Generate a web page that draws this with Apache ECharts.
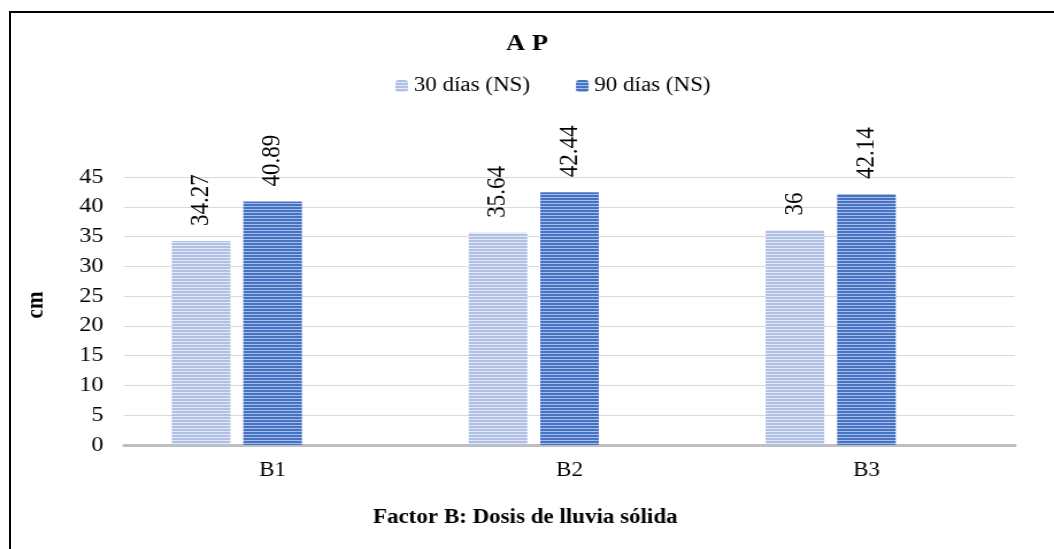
<!DOCTYPE html>
<html>
<head>
<meta charset="utf-8">
<script src="https://cdn.jsdelivr.net/npm/echarts@6/dist/echarts.min.js"></script>
<style>
  html, body { margin: 0; padding: 0; background: #fff; overflow: hidden; }
  #frame { position: absolute; left: 9px; top: 11px; width: 1100px; height: 600px; border: 2px solid #000; box-sizing: border-box; }
  /* el original está estirado en horizontal (~1.15) */
  #main { position: absolute; left: 0; top: 0; width: 917px; height: 549px; transform: scaleX(1.1494); transform-origin: 0 0; }
</style>
</head>
<body>
<div id="frame"></div>
<div id="main"></div>
<script>
  var categories = ['B1', 'B2', 'B3'];
  var seriesNames = ['30 días (NS)', '90 días (NS)'];
  var dias30 = [34.27, 35.64, 36];
  var dias90 = [40.89, 42.44, 42.14];
  var vacio = [null, null, null]; // tercer hueco de la serie (vacío en el original)
  var yTicks = { min: 0, max: 45, interval: 5 };

  // rayado horizontal de las barras
  function stripes(base, line) {
    var c = document.createElement('canvas');
    c.width = 4; c.height = 3;
    var ctx = c.getContext('2d');
    ctx.fillStyle = base;
    ctx.fillRect(0, 0, 4, 3);
    ctx.fillStyle = line;
    ctx.fillRect(0, 2, 4, 1);
    return { image: c, repeat: 'repeat' };
  }

  var font = 'Liberation Serif';
  var labelCfg = {
    show: true,
    position: 'top',
    rotate: 90,
    align: 'left',
    verticalAlign: 'middle',
    distance: 15,
    fontFamily: font,
    fontSize: 23,
    color: '#000'
  };

  var myChart = echarts.init(document.getElementById('main'));
  var option = {
    animation: false,
    textStyle: { fontFamily: font },
    title: {
      text: 'A P',
      left: 'center',
      top: 28,
      textStyle: { fontFamily: font, fontSize: 23, fontWeight: 'bold', color: '#000' }
    },
    legend: {
      top: 71,
      left: 339,
      itemWidth: 11,
      itemHeight: 12,
      itemGap: 40,
      textStyle: { fontFamily: font, fontSize: 20, color: '#000' },
      data: seriesNames
    },
    grid: { left: 108, right: 34, top: 177, bottom: 104 },
    xAxis: {
      type: 'category',
      data: categories,
      axisLine: { lineStyle: { color: '#bfbfbf', width: 3 } },
      axisTick: { show: false },
      axisLabel: { fontFamily: font, fontSize: 20, color: '#000', margin: 16 }
    },
    yAxis: {
      type: 'value',
      min: yTicks.min,
      max: yTicks.max,
      interval: yTicks.interval,
      axisLine: { show: false },
      axisTick: { show: false },
      axisLabel: { fontFamily: font, fontSize: 21, color: '#000', margin: 18 },
      splitLine: { lineStyle: { color: '#d9d9d9', width: 1 } }
    },
    graphic: [
      {
        type: 'text',
        x: 32, y: 305,
        rotation: Math.PI / 2,
        style: { text: 'cm', fontFamily: font, fontSize: 21, fontWeight: 'bold', fill: '#000', align: 'center', verticalAlign: 'middle' }
      },
      {
        type: 'text',
        x: 457, y: 518,
        style: { text: 'Factor B: Dosis de lluvia sólida', fontFamily: font, fontSize: 20, fontWeight: 'bold', fill: '#000', align: 'center', verticalAlign: 'middle' }
      }
    ],
    series: [
      {
        name: seriesNames[0],
        type: 'bar',
        data: dias30,
        barWidth: 51,
        barGap: '22%',
        itemStyle: { color: stripes('#b0bfe4', '#e2e8f5') },
        label: labelCfg
      },
      {
        name: seriesNames[1],
        type: 'bar',
        data: dias90,
        barWidth: 51,
        barGap: '22%',
        itemStyle: { color: stripes('#4672c4', '#a7bce6') },
        label: labelCfg
      },
      {
        name: 'vacío',
        type: 'bar',
        data: vacio,
        barWidth: 51,
        barGap: '22%'
      }
    ]
  };
  myChart.setOption(option);
</script>
</body>
</html>
